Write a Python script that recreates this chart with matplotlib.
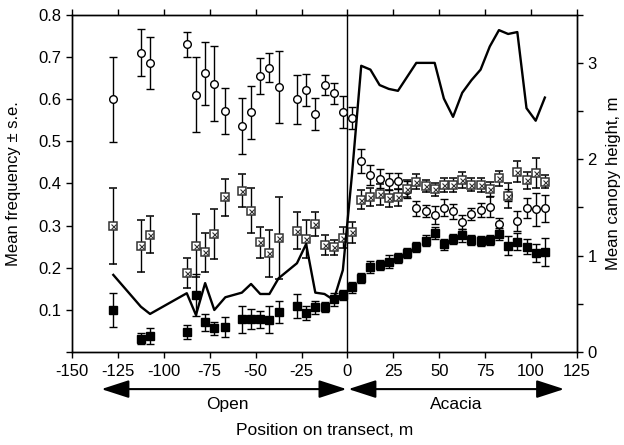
import matplotlib
matplotlib.use('Agg')
import matplotlib.pyplot as plt
import matplotlib.transforms as mtransforms
from matplotlib.ticker import FixedLocator

plt.rcParams['font.family'] = ['Liberation Sans', 'DejaVu Sans']

# positions along the transect (m)
pos = [-127.5, -112.5, -107.5, -87.5, -82.5, -77.5, -72.5, -66.5, -57.5, -52.5,
       -47.5, -42.5, -37.5, -27.5, -22.5, -17.5, -12.5, -7.5, -2.5, 2.5,
       7.5, 12.5, 17.5, 22.5, 27.5, 32.5, 37.5, 42.5, 47.5, 52.5,
       57.5, 62.5, 67.5, 72.5, 77.5, 82.5, 87.5, 92.5, 97.5, 102.5, 107.5]

# open circles
circ_y = [0.599, 0.710, 0.685, 0.730, 0.610, 0.661, 0.636, 0.572, 0.536, 0.569,
          0.655, 0.674, 0.629, 0.599, 0.621, 0.564, 0.633, 0.614, 0.569, 0.556,
          0.453, 0.420, 0.411, 0.404, 0.406, 0.385, 0.341, 0.334, 0.325, 0.342,
          0.334, 0.308, 0.327, 0.337, 0.345, 0.304, 0.372, 0.310, 0.342, 0.338, 0.341]
circ_se = [0.100, 0.055, 0.062, 0.030, 0.089, 0.075, 0.089, 0.054, 0.067, 0.063,
           0.043, 0.034, 0.086, 0.058, 0.038, 0.038, 0.024, 0.025, 0.038, 0.026,
           0.028, 0.023, 0.023, 0.020, 0.019, 0.020, 0.018, 0.014, 0.021, 0.020,
           0.018, 0.016, 0.015, 0.016, 0.024, 0.015, 0.015, 0.024, 0.023, 0.040, 0.032]

# crossed squares
cross_y = [0.299, 0.252, 0.278, 0.188, 0.252, 0.236, 0.280, 0.367, 0.383, 0.335,
           0.260, 0.234, 0.271, 0.288, 0.268, 0.304, 0.254, 0.248, 0.271, 0.284,
           0.361, 0.368, 0.374, 0.365, 0.367, 0.387, 0.404, 0.394, 0.386, 0.396,
           0.396, 0.408, 0.397, 0.396, 0.386, 0.412, 0.371, 0.428, 0.407, 0.425, 0.404]
cross_se = [0.090, 0.062, 0.044, 0.036, 0.075, 0.046, 0.059, 0.044, 0.040, 0.053,
            0.037, 0.055, 0.097, 0.044, 0.046, 0.029, 0.023, 0.018, 0.025, 0.025,
            0.023, 0.022, 0.025, 0.020, 0.020, 0.020, 0.018, 0.015, 0.016, 0.016,
            0.017, 0.018, 0.016, 0.016, 0.018, 0.018, 0.030, 0.024, 0.020, 0.036, 0.015]

# filled squares
fill_y = [0.100, 0.032, 0.038, 0.048, 0.135, 0.070, 0.056, 0.059, 0.078, 0.078,
          0.078, 0.076, 0.094, 0.109, 0.093, 0.106, 0.107, 0.125, 0.135, 0.153,
          0.175, 0.201, 0.206, 0.214, 0.222, 0.234, 0.250, 0.264, 0.282, 0.255,
          0.268, 0.277, 0.266, 0.264, 0.266, 0.280, 0.252, 0.262, 0.250, 0.235, 0.237]
fill_se = [0.041, 0.013, 0.020, 0.016, 0.049, 0.021, 0.015, 0.024, 0.032, 0.024,
           0.020, 0.032, 0.026, 0.028, 0.016, 0.015, 0.012, 0.015, 0.012, 0.012,
           0.012, 0.014, 0.012, 0.015, 0.012, 0.012, 0.012, 0.013, 0.014, 0.012,
           0.013, 0.015, 0.012, 0.012, 0.012, 0.014, 0.022, 0.020, 0.018, 0.022, 0.034]

# canopy height (right axis)
canopy_x = [-127.5, -112.5, -107.5, -87.5, -82.5, -77.5, -72.5, -66.5, -57.5, -52.5,
            -47.5, -42.5, -37.5, -27.5, -22.5, -17.5, -12.5, -7.5, -2.5, 2.5,
            7.5, 12.5, 17.5, 22.5, 27.5, 37.5, 47.5, 52.5, 57.5, 62.5,
            67.5, 72.5, 77.5, 82.5, 87.5, 92.5, 97.5, 102.5, 107.5]
canopy_h = [0.80, 0.47, 0.395, 0.61, 0.384, 0.715, 0.436, 0.568, 0.616, 0.706,
            0.602, 0.602, 0.765, 0.921, 1.12, 0.616, 0.602, 0.54, 0.85, 1.85,
            2.97, 2.93, 2.77, 2.73, 2.71, 3.0, 3.0, 2.63, 2.44, 2.69,
            2.82, 2.93, 3.17, 3.34, 3.30, 3.32, 2.53, 2.40, 2.64]

xticks = list(range(-150, 126, 25))
left_ticks = [0, 0.1, 0.2, 0.3, 0.4, 0.5, 0.6, 0.7, 0.8]
left_labels = ['', '0.1', '0.2', '0.3', '0.4', '0.5', '0.6', '0.7', '0.8']

fig = plt.figure(figsize=(6.24, 4.45), dpi=100)
ax = fig.add_axes([72 / 624, 1 - 352 / 445, 505 / 624, 337.3 / 445])

eb = dict(ecolor='black', elinewidth=1, capsize=3, capthick=1, linestyle='none')
ax.errorbar(pos, circ_y, yerr=circ_se, fmt='o', ms=5.5, mfc='white',
            mec='black', mew=1, zorder=2, **eb)
ax.errorbar(pos, cross_y, yerr=cross_se, fmt='s', ms=5.5, mfc='white',
            mec='#333333', mew=1.1, zorder=3, **eb)
ax.plot(pos, cross_y, 'x', ms=3.6, color='#333333', mew=0.8, zorder=4)
ax.errorbar(pos, fill_y, yerr=fill_se, fmt='s', ms=6.3, mfc='black',
            mec='black', zorder=5, **eb)
ax.axvline(0, color='black', lw=1, zorder=1)

ax.set_xlim(-150, 125)
ax.set_ylim(0, 0.8)
ax.set_xticks(xticks)
ax.set_xticklabels([str(t) for t in xticks])
ax.set_yticks(left_ticks)
ax.set_yticklabels(left_labels)
ax.tick_params(axis='x', top=True, direction='out', length=4, width=1,
               labelsize=12, pad=5)
ax.tick_params(axis='y', right=False, direction='out', length=4, width=1,
               labelsize=12)
ax.set_ylabel('Mean frequency \u00b1 s.e.', fontsize=12)
ax.yaxis.set_label_coords(-0.1, 0.5)

ax2 = ax.twinx()
ax2.plot(canopy_x, canopy_h, color='black', lw=1.7, zorder=6)
ax2.set_ylim(0, 3.5)
ax2.set_yticks([0, 1, 2, 3])
ax2.yaxis.set_minor_locator(FixedLocator([0.5, 1.5, 2.5, 3.5]))
ax2.tick_params(axis='y', which='both', direction='out', length=4, width=1,
                labelsize=12)
ax2.set_ylabel('Mean canopy height, m', fontsize=12)
ax2.yaxis.set_label_coords(1.058, 0.5)

for a in (ax, ax2):
    for s in a.spines.values():
        s.set_linewidth(1)

# region arrows under the axis
trans = mtransforms.blended_transform_factory(ax.transData, ax.transAxes)
arrow = dict(arrowstyle='<|-|>,head_length=1.7,head_width=0.55', mutation_scale=10,
             color='black', lw=1.5, shrinkA=0, shrinkB=0)
ax.annotate('', xy=(-134, -0.11), xytext=(-0.5, -0.11), xycoords=trans,
            textcoords=trans, arrowprops=arrow, annotation_clip=False)
ax.annotate('', xy=(0.5, -0.11), xytext=(118, -0.11), xycoords=trans,
            textcoords=trans, arrowprops=arrow, annotation_clip=False)
ax.text(-65.6, -0.157, 'Open', transform=trans, ha='center', va='center', fontsize=12.5)
ax.text(59, -0.157, 'Acacia', transform=trans, ha='center', va='center', fontsize=12.5)
ax.text(0.5, -0.234, 'Position on transect, m', transform=ax.transAxes,
        ha='center', va='center', fontsize=12.5)

fig.savefig('out.png', dpi=100)
